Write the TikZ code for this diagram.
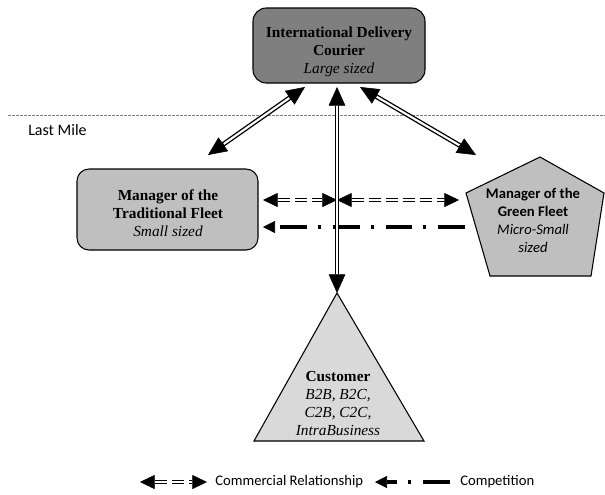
\documentclass[tikz,border=0pt]{standalone}
\usepackage{fontspec}
\setmainfont{Liberation Serif}
\newfontfamily\calfont{Carlito}
\usetikzlibrary{arrows.meta,calc}
\definecolor{darkbox}{HTML}{7F7F7F}
\definecolor{midbox}{HTML}{BFBFBF}
\definecolor{lightbox}{HTML}{D9D9D9}
\begin{document}
\begin{tikzpicture}[x=0.75pt,y=-0.75pt,
  boxshape/.style={draw=black, line width=0.8pt, inner sep=0pt},
  seriftext/.style={align=center, font=\fontsize{11.5}{13.5}\selectfont, inner sep=0pt},
  shapeline/.style={draw=black, line width=0.8pt},
  comm/.style={draw=black, line width=3.6pt, line cap=butt,
    {Triangle[length=14pt 0 0,width=12.5pt 0 0,line width=0.4pt,fill=black]}-{Triangle[length=14pt 0 0,width=12.5pt 0 0,line width=0.4pt,fill=black]},
    postaction={draw=white, line width=1.6pt, solid, arrows=-, shorten <=14.5pt, shorten >=14.5pt}},
  commdash/.style={draw=black, line width=3pt, line cap=butt,
    dash pattern=on 9pt off 3.75pt,
    {Triangle[length=11pt 0 0,width=10.5pt 0 0,line width=0.4pt,fill=black]}-{Triangle[length=11pt 0 0,width=10.5pt 0 0,line width=0.4pt,fill=black]},
    postaction={draw=white, line width=1.3pt, solid, arrows=-, shorten <=11.5pt, shorten >=11.5pt}},
  compet/.style={draw=black, line width=2.3pt, line cap=butt,
    dash pattern=on 20pt off 9pt on 2.25pt off 8.25pt,
    -{Triangle[length=9pt 0 0,width=9pt 0 0,line width=0.4pt,fill=black]}},
  caltext/.style={font=\calfont\fontsize{11}{13.5}\selectfont, align=center, inner sep=0pt}
]
\useasboundingbox (0,0) rectangle (605,494);

% dotted separator and label
\coordinate (sepL) at (8,115);
\coordinate (sepR) at (605,115);
\draw[gray, line width=0.5pt, dash pattern=on 2pt off 1pt] (sepL) -- (sepR);
\node[anchor=west, font=\calfont\fontsize{12}{14}\selectfont, inner sep=0pt] (lastmile) at (28,130) {Last Mile};

% top box
\node[boxshape, fill=darkbox, rounded corners=10pt, minimum width=129pt, minimum height=56.25pt] (intl) at (339,45.5) {};
\node[seriftext] (intltext) at (339,52)
  {\textbf{International Delivery}\\\textbf{Courier}\\\textit{Large sized}};

% left box
\node[boxshape, fill=midbox, rounded corners=9pt, minimum width=135.75pt, minimum height=60.75pt] (trad) at (167.5,209.5) {};
\node[seriftext] (tradtext) at (168,213.5)
  {\textbf{Manager of the}\\\textbf{Traditional Fleet}\\\textit{Small sized}};

% pentagon
\coordinate (pT) at (540,157);
\coordinate (pR) at (604,193);
\coordinate (pBR) at (591,276);
\coordinate (pBL) at (490,276);
\coordinate (pL) at (466,193);
\filldraw[shapeline, fill=midbox] (pT) -- (pR) -- (pBR) -- (pBL) -- (pL) -- cycle;
\node[caltext] (green) at (533,220)
  {\textbf{Manager of the}\\\textbf{Green Fleet}\\\textit{Micro-Small}\\\textit{sized}};

% triangle
\coordinate (apex) at (337,293);
\coordinate (tBR) at (424,441);
\coordinate (tBL) at (254,441);
\filldraw[shapeline, fill=lightbox] (apex) -- (tBR) -- (tBL) -- cycle;
\node[seriftext] (cust) at (338,403)
  {\textbf{Customer}\\\textit{B2B, B2C,}\\\textit{C2B, C2C,}\\\textit{IntraBusiness}};

% arrow end points
\coordinate (vTop) at (337,87);
\coordinate (dLtop) at (305,87);
\coordinate (dLbot) at (208,155);
\coordinate (dRtop) at (360,87);
\coordinate (dRbot) at (476,155);
\coordinate (hL) at (263,200);
\coordinate (hM) at (337,200);
\coordinate (hR) at (459,200);
\coordinate (cR) at (465,227);
\coordinate (cL) at (263,227);

% commercial relationships
\draw[comm] (dLtop) -- (dLbot);
\draw[comm] (dRtop) -- (dRbot);
\draw[commdash] (hL) -- (hM);
\draw[commdash] (hM) -- (hR);

% competition
\draw[compet] (cR) -- (cL);

\draw[comm] (vTop) -- (apex);

% legend
\coordinate (lgA) at (140,482);
\coordinate (lgB) at (207,482);
\coordinate (lgC) at (450,482);
\coordinate (lgD) at (375,482);
\draw[commdash] (lgA) -- (lgB);
\node[anchor=west, font=\calfont\fontsize{11}{13}\selectfont, inner sep=0pt] (lgcomm) at (215,482) {Commercial Relationship};
\draw[compet] (lgC) -- (lgD);
\node[anchor=west, font=\calfont\fontsize{11}{13}\selectfont, inner sep=0pt] (lgcomp) at (460,482) {Competition};
\end{tikzpicture}
\end{document}
